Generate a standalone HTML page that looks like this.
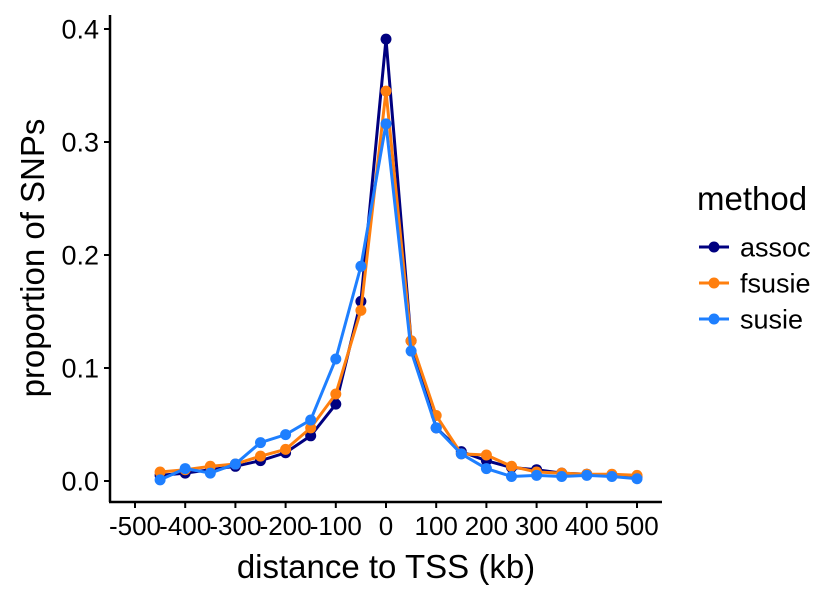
<!DOCTYPE html>
<html><head><meta charset="utf-8"><style>
body{margin:0;background:#fff}
svg text{font-family:"Liberation Sans",Arial,sans-serif}
</style></head><body>
<svg id="c" width="840" height="600" xmlns="http://www.w3.org/2000/svg"></svg>
<script>
const xs=[-450,-400,-350,-300,-250,-200,-150,-100,-50,0,50,100,150,200,250,300,350,400,450,500];
const assoc=[0.005,0.007,0.010,0.013,0.018,0.025,0.040,0.068,0.159,0.391,0.124,0.047,0.026,0.018,0.012,0.010,0.007,0.006,0.005,0.004];
const fsusie=[0.008,0.010,0.013,0.015,0.022,0.028,0.047,0.077,0.151,0.345,0.124,0.058,0.024,0.023,0.013,0.008,0.007,0.006,0.006,0.005];
const susie=[0.001,0.011,0.007,0.015,0.034,0.041,0.054,0.108,0.190,0.316,0.115,0.047,0.024,0.011,0.004,0.005,0.004,0.005,0.004,0.002];
const xTicks=[-500,-400,-300,-200,-100,0,100,200,300,400,500];
const yTicks=[0,0.1,0.2,0.3,0.4];
const seriesNames=["assoc","fsusie","susie"];
const colors=["#000080","#FF7F0E","#1E7FFF"];
const NS="http://www.w3.org/2000/svg";
const svg=document.getElementById('c');
const X=v=>386+v*0.502;
const Y=v=>481-v*1130;
function mk(t,a,p){const e=document.createElementNS(NS,t);for(const k in a)e.setAttribute(k,a[k]);(p||svg).appendChild(e);return e;}
let e;
e=mk('line',{x1:110,y1:15,x2:110,y2:502,stroke:'#000','stroke-width':2.5});


e=mk('line',{x1:109,y1:502,x2:662,y2:502,stroke:'#000','stroke-width':2.5});


yTicks.forEach(v=>{
 e=mk('line',{x1:104,x2:110,y1:Y(v),y2:Y(v),stroke:'#000','stroke-width':2});
 
 
 e=mk('text',{x:99,y:Y(v)+9.5,'text-anchor':'end','font-size':27,fill:'#000'});e.textContent=v.toFixed(1);
 
 
});
xTicks.forEach(v=>{
 e=mk('line',{x1:X(v),x2:X(v),y1:502,y2:508,stroke:'#000','stroke-width':2});
 
 
 e=mk('text',{x:X(v),y:535,'text-anchor':'middle','font-size':26,fill:'#000'});e.textContent=v;
 
 
});
e=mk('text',{x:386,y:578,'text-anchor':'middle','font-size':33});e.textContent='distance to TSS (kb)';


e=mk('text',{x:0,y:0,'text-anchor':'middle','font-size':33,transform:'translate(44,258) rotate(-90)'});e.textContent='proportion of SNPs';


[assoc,fsusie,susie].forEach((d,i)=>{
 const g=mk('g',{});
 
 
 e=mk('polyline',{points:d.map((v,j)=>X(xs[j])+','+Y(v)).join(' '),fill:'none',stroke:colors[i],'stroke-width':3},g);
 
 
 d.forEach((v,j)=>{e=mk('circle',{cx:X(xs[j]),cy:Y(v),r:5.5,fill:colors[i]},g);
 
 });
});
e=mk('text',{x:697,y:210,'font-size':33});e.textContent='method';


seriesNames.forEach((n,i)=>{
 const y=247+i*36;
 const g=mk('g',{});
 
 
 mk('line',{x1:699,x2:729,y1:y,y2:y,stroke:colors[i],'stroke-width':3},g);
 mk('circle',{cx:714,cy:y,r:5.5,fill:colors[i]},g);
 const t=mk('text',{x:740,y:y+9.5,'font-size':27},g);t.textContent=n;
});
</script>
</body></html>
